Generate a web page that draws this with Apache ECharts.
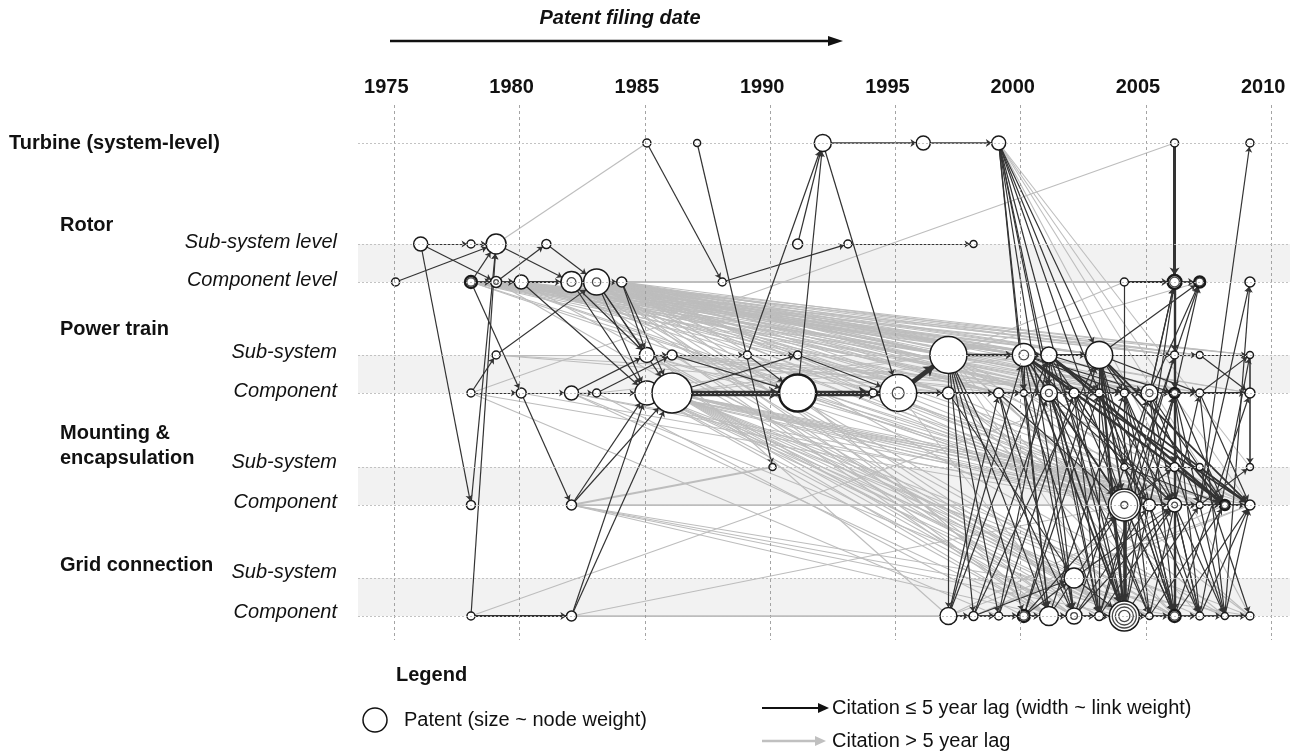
<!DOCTYPE html>
<html><head><meta charset="utf-8">
<script src="https://cdn.jsdelivr.net/npm/echarts@6/dist/echarts.min.js"></script>
<style>html,body{margin:0;padding:0;background:#fff}#c{width:1292px;height:755px}</style>
</head><body><div id="c"></div>
<script>
// ---------------- DATA ----------------
const rows = ['T','RS','RC','PS','PC','MS','MC','GS','GC'];
const tickYears = [1975,1980,1985,1990,1995,2000,2005,2010];
// [id, row, filing year, node weight, node style]
const nodes = [
['T85','T',1985,8,'plain'],['T87','T',1987,7,'plain'],['T92','T',1992,17,'plain'],['T96','T',1996,14,'plain'],['T99','T',1999,14,'plain'],['T06','T',2006,8,'plain'],['T09','T',2009,8,'plain'],
['RS76','RS',1976,14,'plain'],['RS78','RS',1978,8,'plain'],['RS79','RS',1979,20,'plain'],['RS81','RS',1981,9,'plain'],['RS91','RS',1991,10,'plain'],['RS93','RS',1993,8,'plain'],['RS98','RS',1998,7,'plain'],
['RC75','RC',1975,8,'plain'],['RC78','RC',1978,12,'bold'],['RC79','RC',1979,11,'ring'],['RC80','RC',1980,14,'plain'],['RC82','RC',1982,21,'ring'],['RC83','RC',1983,26,'ringS'],['RC84','RC',1984,10,'plain'],['RC88','RC',1988,8,'plain'],['RC04','RC',2004,8,'plain'],['RC06','RC',2006,14,'bold'],['RC07','RC',2007,11,'bold'],['RC09','RC',2009,10,'plain'],
['PS79','PS',1979,8,'plain'],['PS85','PS',1985,15,'plain'],['PS86','PS',1986,10,'plain'],['PS89','PS',1989,8,'plain'],['PS91','PS',1991,8,'plain'],['PS97','PS',1997,37,'plain'],['PS00','PS',2000,23,'ring'],['PS01','PS',2001,16,'plain'],['PS03','PS',2003,27,'plain'],['PS06','PS',2006,8,'plain'],['PS07','PS',2007,7,'plain'],['PS09','PS',2009,7,'plain'],
['PC78','PC',1978,8,'plain'],['PC80','PC',1980,10,'plain'],['PC82','PC',1982,14,'plain'],['PC83','PC',1983,8,'plain'],['PC85','PC',1985,24,'plain'],['PC86','PC',1986,40,'plain'],['PC91','PC',1991,37,'thick'],['PC94','PC',1994,8,'plain'],['PC95','PC',1995,37,'ringS'],['PC97','PC',1997,12,'plain'],['PC99','PC',1999,10,'plain'],['PC00','PC',2000,7,'plain'],['PC01','PC',2001,17,'ring'],['PC02','PC',2002,10,'plain'],['PC03','PC',2003,8,'plain'],['PC04','PC',2004,8,'plain'],['PC05','PC',2005,17,'ring'],['PC06','PC',2006,10,'bold'],['PC07','PC',2007,8,'plain'],['PC09','PC',2009,10,'plain'],
['MS90','MS',1990,7,'plain'],['MS04','MS',2004,7,'plain'],['MS06','MS',2006,9,'plain'],['MS07','MS',2007,7,'plain'],['MS09','MS',2009,7,'plain'],
['MC78','MC',1978,9,'plain'],['MC82','MC',1982,10,'plain'],['MC04','MC',2004,32,'triple'],['MC05','MC',2005,12,'plain'],['MC06','MC',2006,14,'ring'],['MC07','MC',2007,7,'plain'],['MC08','MC',2008,10,'bold'],['MC09','MC',2009,10,'plain'],
['GS02','GS',2002,20,'plain'],
['GC78','GC',1978,8,'plain'],['GC82','GC',1982,10,'plain'],['GC97','GC',1997,17,'plain'],['GC98','GC',1998,9,'plain'],['GC99','GC',1999,8,'plain'],['GC00','GC',2000,12,'bold'],['GC01','GC',2001,19,'plain'],['GC02','GC',2002,16,'ring'],['GC03','GC',2003,9,'plain'],['GC04','GC',2004,30,'quad'],['GC05','GC',2005,7,'plain'],['GC06','GC',2006,12,'bold'],['GC07','GC',2007,8,'plain'],['GC08','GC',2008,7,'plain'],['GC09','GC',2009,8,'plain']
];
// citations with <= 5 year lag: [cited, citing, link weight]
const shortLagLinks = [
['RS76','RS78',1],['RS78','RS79',1],['RS76','RC79',1],['RS76','MC78',1],['RC75','RS79',1],['RC78','RS79',1],['MC78','RS79',1],['GC78','RS79',1],
['RC78','RC79',1.5],['RC79','RC80',1.5],['RC80','RC82',1.5],['RC82','RC83',1.5],['RC83','RC84',1],
['RC78','PC80',1],['PC80','MC82',1],['RC79','RS81',1],['RS79','RC82',1],['RS81','RC83',1],
['PC78','PS79',1],['PS79','RC83',1],['PC78','PC80',1],['PC80','PC82',1],['PC82','PC83',1],['PC83','PC85',1],
['PC82','PS85',1],['PC83','PS86',1],['RC82','PS85',1],['RC82','PC85',1],['RC83','PS85',1],['RC83','PC86',1],['RC83','PC85',1],['RC84','PS85',1],['RC84','PC86',1],['RC80','PC85',1],
['PS85','PS86',1],['PS86','PS89',1],['PS89','PS91',1],['PS86','PC91',1],['PC86','PS91',1],['PC86','PC91',4.5],
['MC82','PC85',1],['MC82','PC86',1],['GC82','PC85',1],['GC82','PC86',1],['GC78','GC82',1.5],
['T85','RC88',1],['RC88','RS93',1],['T87','MS90',1],['RS91','T92',1],['PS89','T92',1],['PC91','T92',1],['T92','PC95',1],['T92','T96',1.3],['T96','T99',1.3],['RS93','RS98',1],
['PS89','PC91',1],['PS91','PC95',1],['PC91','PC94',4.5],['PC94','PC95',4.5],['PC95','PS97',4],['PS97','PS00',2],
['PC95','PC97',1.5],['PC97','PC99',1.5],['PC99','PC00',1.5],['PC00','PC01',1.5],['PC01','PC02',1.5],['PC02','PC03',1.5],['PC03','PC04',1.5],['PC04','PC05',1.5],['PC05','PC06',1.5],['PC06','PC07',1.5],['PC07','PC09',1.5],
['PS00','PS01',1.5],['PS01','PS03',1.5],['PS03','PS06',1],['PS06','PS07',1],['PS07','PS09',1],
['MS04','MS06',1],['MS06','MS07',1],
['MC04','MC05',1.5],['MC05','MC06',1.5],['MC06','MC07',1.5],['MC07','MC08',1.5],['MC08','MC09',1.5],
['GC97','GC98',1.5],['GC98','GC99',1.5],['GC99','GC00',1.5],['GC00','GC01',1.5],['GC01','GC02',1.5],['GC02','GC03',1.5],['GC03','GC04',1.5],['GC04','GC05',1.5],['GC05','GC06',1.5],['GC06','GC07',1.5],['GC07','GC08',1.5],['GC08','GC09',1.5],
['RC04','RC06',1.5],['RC06','RC07',1.5],
['T06','RC06',2.5],['RC06','PS06',2],['PS06','PC06',2],['PC06','MS06',2],['MS06','MC06',2],['MC06','GC06',2],
['MC04','GC04',3],['PS03','GC03',1],['PS01','PC01',1],['PS00','PC00',1],['PS09','MS09',1.3],
['PS07','PC09',1],['PC07','PS09',1],['MS07','MC09',1],['MC07','MS09',1],['MC07','T09',1],['PS03','RC07',1],['RC04','MS04',1],
['MC04','RC06',1],['PC05','RC07',1],['MC05','RC07',1],['GC04','RC06',1],['MC07','RC09',1],['GC08','RC09',1],
['T99','PC00',1],['T99','GC01',1],['T99','PC01',1],['T99','GC02',1],['T99','GC03',1],['T99','GC04',1],['T99','MC04',1],['T99','PS03',1],['T99','PC03',1],
['PS97','GC97',1],['PS97','GC98',1],['PS97','GC99',1],['PS97','GC00',1],['PS97','GC01',1],['PS97','GC02',1],
['PS00','PC02',1],['PS00','PC04',1],['PS00','MC04',1.5],['PS00','GC02',1],['PS00','GC04',1.5],['PS00','MC06',1],['PS00','MC08',2],['PS00','MC09',1.5],['PS00','PC05',1],
['PS01','PC03',1],['PS01','MC05',1],['PS01','GC03',1],['PS01','GC05',1],['PS01','MC08',2],['PS01','MC09',1.5],['PS01','PC06',1],
['PS03','PC04',1],['PS03','MC04',1.5],['PS03','GC04',2],['PS03','GC06',1],['PS03','MC08',1.5],['PS03','MC09',1.5],['PS03','PC07',1],['PS03','MS04',1],
['PC99','GC01',1],['PC99','GC02',1],['PC99','MC04',1],['PC00','GC01',1],['PC00','GC03',1],['PC01','GC02',1],['PC01','GC04',1.5],['PC01','MC04',1],['PC01','GC05',1],['PC01','MC06',1],
['PC02','GC03',1],['PC02','GC04',1],['PC02','MC05',1],['PC02','GC06',1],['PC03','GC04',1],['PC03','MC05',1],['PC03','GC06',1],['PC03','MC06',1],
['PC04','GC05',1],['PC04','GC06',1],['PC04','MC06',1],['PC04','GC07',1],['PC05','GC06',1],['PC05','GC07',1],['PC05','MC07',1],['PC05','MC08',1],['PC05','RC06',1],
['PC06','GC07',1],['PC06','GC08',1],['PC06','MC08',1],['PC07','GC08',1],['PC07','MC09',1],
['MS04','GC06',1],['MS04','MC08',1],['MS06','GC08',1],['MS07','GC09',1],['MC04','GC06',1],['MC04','GC05',1],['MC04','RC07',1],['MC04','MS06',1],
['MC05','GC06',1],['MC05','GC07',1],['MC06','GC07',1],['MC06','GC08',1],
['GC97','PC99',1],['GC97','PS00',1],['GC97','PS01',1],['GC98','PC01',1],['GC98','PS03',1],['GC99','PC02',1],['GC99','PS01',1],
['GC00','GS02',1],['GC00','PC03',1],['GC00','MC04',1],['GC00','PS03',1],['GC01','PC04',1],['GC01','MC04',1],
['GC02','PC05',1],['GC02','MC05',1],['GC02','MC06',1],['GC03','PC06',1],['GC03','MC06',1],['GC03','PS06',1],
['GC04','PC06',1],['GC04','MC07',1],['GC05','PC07',1],['GC05','MC08',1],['GC06','PC09',1],['GC06','MC09',1],
['GC07','MC09',1],['GC07','PS09',1],['GC08','MC09',1],['GS02','GC04',1],['GS02','MC06',1],['GC98','GS02',1],['PC97','GS02',1]
];
// citations with > 5 year lag: [cited, citing, link weight]
const longLagLinks = [
['RS79','T85',1],['PC78','T06',1],['RC79','RC04',1.8],
['RC78','PS97',1],['RC78','PS01',1],['RC78','PC97',1],['RC78','PC01',1],['RC78','PC05',1],['RC78','PS06',1],['RC78','MC04',1],
['RC78','PS00',1],['RC78','PC99',1],['RC78','PS03',1],['RC78','PC03',1],['RC78','MC06',1],
['RC79','PS97',1],['RC79','PS00',1],['RC79','PS03',1],['RC79','PC99',1],['RC79','PC02',1],['RC79','PC06',1],['RC79','PS09',1],['RC79','MC05',1],
['RC79','PS01',1],['RC79','PC97',1],['RC79','PC01',1],['RC79','PC04',1],['RC79','PS06',1],['RC79','MC04',1],['RC79','GC02',1],
['RC80','PS97',1],['RC80','PS00',1],['RC80','PC00',1],['RC80','PC04',1],['RC80','PS07',1],['RC80','MC06',1],
['RC80','PS01',1],['RC80','PC97',1],['RC80','PC02',1],['RC80','PS03',1],['RC80','GC04',1],['RC80','MC08',1],
['RC82','PS97',1],['RC82','PS01',1],['RC82','PS03',1],['RC82','PC97',1],['RC82','PC99',1],['RC82','PC03',1],['RC82','PC05',1],['RC82','PC07',1],['RC82','MC04',1],['RC82','GC97',1],['RC82','GC01',1],['RC82','GC04',1],
['RC82','PS00',1],['RC82','PS06',1],['RC82','PC01',1],['RC82','PC09',1],['RC82','MC06',1],['RC82','GC06',1],['RC82','PS09',1],
['RC83','PS97',1.6],['RC83','PS00',1],['RC83','PS01',1],['RC83','PS03',1],['RC83','PS06',1],['RC83','PS09',1],['RC83','PC97',1],['RC83','PC01',1],['RC83','PC04',1],['RC83','PC06',1],['RC83','PC09',1],['RC83','MC04',1],['RC83','MC08',1],['RC83','GC02',1],['RC83','GC06',1],
['RC83','PC99',1],['RC83','PC02',1],['RC83','PC05',1],['RC83','PS07',1],['RC83','MC06',1],['RC83','GC04',1],['RC83','GC01',1],['RC83','MC09',1],
['RC84','PS97',1],['RC84','PS00',1],['RC84','PC99',1],['RC84','PC02',1],['RC84','PC05',1],['RC84','PS07',1],['RC84','MC05',1],['RC84','GC04',1],
['RC84','PS01',1],['RC84','PC97',1],['RC84','PC01',1],['RC84','PS03',1],['RC84','PC07',1],['RC84','MC04',1],['RC84','GC02',1],['RC84','GC08',1],
['PS79','PS97',1],['PS79','PC97',1],['PS79','PC05',1],
['PC78','MC04',1],['PC78','GC99',1],['GC78','PC03',1],
['PS85','PS97',1],['PS85','PC00',1],['PS85','PC04',1],['PS85','MC04',1],['PS85','GC03',1],['PS85','PC97',1],['PS85','MC06',1],['PS85','GC05',1],
['PS86','PS97',1],['PS86','PC05',1],['PS86','MC06',1],['PS86','PC99',1],['PS86','GC04',1],
['PC85','PC97',1],['PC85','PC01',1],['PC85','PC06',1],['PC85','MC04',1],['PC85','MC07',1],['PC85','MC09',1],['PC85','GC01',1],['PC85','GC04',1],['PC85','GC06',1],
['PC85','PC99',1],['PC85','PC03',1],['PC85','MC05',1],['PC85','GC02',1],['PC85','GC08',1],['PC85','MC08',1],['PC85','GC05',1],
['PC86','PS97',1],['PC86','PS01',1],['PC86','PC99',1],['PC86','PC03',1],['PC86','PC07',1],['PC86','MC05',1],['PC86','MC06',1],['PC86','MC08',1],['PC86','GC02',1],['PC86','GC05',1],['PC86','GC08',1],['PC86','GC09',1],
['PC86','PC97',1],['PC86','PC01',1],['PC86','PC05',1],['PC86','MC04',1],['PC86','MC07',1],['PC86','MC09',1],['PC86','GC01',1],['PC86','GC03',1],['PC86','GC04',1],['PC86','GC06',1],['PC86','GC07',1],
['PC82','PC97',1],['PC82','PC04',1],['PC82','MC04',1],['PC82','GC01',1],['PC82','PC01',1],['PC82','GC04',1],['PC82','MC06',1],
['PC80','PC97',1],['PC80','MC05',1],['PC83','PS97',1],['PC83','GC00',1],
['MC82','MS90',1.8],['MC82','MC04',1.5],['MC82','GC01',1],['MC82','GC09',1],['MC82','MC09',1],['MC82','GC04',1],['MC82','MC06',1],['MC82','GC06',1],
['GC82','GC97',1.5],['GC82','GC04',1],['GC82','MC04',1],['GC82','GC08',1],['GC82','GC02',1],
['PS91','PS03',1],['PC91','PC01',1],['PC91','GC01',1],['PC91','MC04',1],
['PC95','GC02',1],['PC95','MC06',1],
['PS97','RC04',1],['PS97','RC07',1],['PS97','MC04',1],['PS97','GC04',1],['PS97','MC06',1],['PS97','GC06',1],['PS97','MC09',1],['PS97','PC05',1],['PS97','GC09',1],
['T99','MS09',1],['T99','MC09',1],['T99','MC08',1],['T99','GC09',1],
['PC97','MC04',1],['PC97','GC06',1],['PC97','MC07',1],['PC97','GC08',1],['PC97','GC09',1],
['GC97','MC06',1],['GC97','MC09',1],['GC98','MC08',1],['GC98','MC09',1],['PC99','MC09',1],['PC00','MC07',1],['PC99','GC07',1]
];

// ---------------- LAYOUT / STYLE ----------------
const FONT = '"Liberation Sans", Arial, Helvetica, sans-serif';
const rowPos = {T:38, RS:139, RC:177, PS:250, PC:288, MS:362, MC:400, GS:473, GC:511};
const bands = [['RS','RC'],['PS','PC'],['MS','MC'],['GS','GC']];
function xPos(year){ return year + 0.05 + 0.003 * (year - 1975); }
const idx = {}; nodes.forEach((n, i) => { idx[n[0]] = i; });
const ringRatios = {plain:[], thick:[], ring:[0.42], ringS:[0.32], bold:[0.7], triple:[0.83,0.22], quad:[0.8,0.6,0.37]};

const graphData = nodes.map(n => ({
  value: [xPos(n[2]), rowPos[n[1]]],
  symbolSize: n[3],
  itemStyle: {color:'#fff', borderColor:'#1a1a1a', borderWidth: (n[4] === 'bold' || n[4] === 'thick') ? 2.4 : 1.5}
}));
const ringData = [];
nodes.forEach(n => ringRatios[n[4]].forEach(r => ringData.push([xPos(n[2]), rowPos[n[1]], n[3] * r])));

const links = [];
longLagLinks.forEach(l => { if (idx[l[0]] !== undefined && idx[l[1]] !== undefined)
  links.push({source: idx[l[0]], target: idx[l[1]], lineStyle: {color:'#bdbdbd', width: 1.1 * l[2], opacity: 1}, symbol: ['none','none']}); });
shortLagLinks.forEach(l => { if (idx[l[0]] !== undefined && idx[l[1]] !== undefined)
  links.push({source: idx[l[0]], target: idx[l[1]], lineStyle: {color:'#333', width: 1.2 * l[2], opacity: 1}, symbol: ['none','arrow'], symbolSize: [0, 4 + 1.4 * l[2]]}); });

const chart = echarts.init(document.getElementById('c'), null, {renderer: 'canvas'});

function txt(text, x, y, font, align) {
  return {type:'text', x, y, silent:true, style:{text, font, fill:'#111', textAlign: align || 'left', textVerticalAlign:'middle'}};
}
const B = 'bold 20px ' + FONT, I = 'italic 20px ' + FONT, R = '20px ' + FONT;

chart.setOption({
  animation: false,
  backgroundColor: '#fff',
  grid: {left: 358, right: 2, top: 105, bottom: 115, containLabel: false},
  xAxis: {
    type: 'value', position: 'top', min: 1973.55, max: 2010.75,
    axisLine: {show:false}, axisTick: {show:false}, splitLine: {show:false},
    axisLabel: {customValues: tickYears, formatter: v => String(Math.round(v)), fontFamily: FONT, fontSize: 20, fontWeight: 'bold', color: '#111', margin: 8, padding: [0, 16, 0, 0]}
  },
  yAxis: {type: 'value', inverse: true, min: 0, max: 535, show: false},
  series: [
    {
      type: 'scatter', data: [], z: 0, silent: true,
      markArea: {silent: true, itemStyle: {color: '#f2f2f2'}, data: bands.map(b => [{yAxis: rowPos[b[0]]}, {yAxis: rowPos[b[1]]}])},
      markLine: {silent: true, symbol: ['none','none'], label: {show:false},
        data: tickYears.map(y => ({xAxis: y, lineStyle: {color:'#9a9a9a', type:[3,3], width: 0.9}}))
          .concat(rows.map(r => ({yAxis: rowPos[r], lineStyle: {color:'#bdbdbd', type:[2,2], width: 0.9}})))}
    },
    {
      type: 'graph', coordinateSystem: 'cartesian2d', silent: true, z: 2,
      symbol: 'circle', data: graphData, links: links,
      lineStyle: {opacity: 1, curveness: 0}, edgeSymbol: ['none','none'],
      label: {show: false}, emphasis: {disabled: true}
    },
    {
      type: 'scatter', z: 3, silent: true, data: ringData,
      symbolSize: v => v[2],
      itemStyle: {color: 'rgba(255,255,255,0)', borderColor: '#1a1a1a', borderWidth: 1.3}
    }
  ],
  graphic: [
    txt('Patent filing date', 620, 18, 'bold italic 20px ' + FONT, 'center'),
    {type:'line', silent:true, shape:{x1:390, y1:41, x2:832, y2:41}, style:{stroke:'#111', lineWidth:2.5}},
    {type:'polygon', silent:true, shape:{points:[[828,36],[843,41],[828,46]]}, style:{fill:'#111'}},
    txt('Turbine (system-level)', 9, 143, B),
    txt('Rotor', 60, 225, B),
    txt('Sub-system level', 337, 242, I, 'right'),
    txt('Component level', 337, 280, I, 'right'),
    txt('Power train', 60, 329, B),
    txt('Sub-system', 337, 352, I, 'right'),
    txt('Component', 337, 391, I, 'right'),
    txt('Mounting &', 60, 433, B),
    txt('encapsulation', 60, 458, B),
    txt('Sub-system', 337, 462, I, 'right'),
    txt('Component', 337, 502, I, 'right'),
    txt('Grid connection', 60, 565, B),
    txt('Sub-system', 337, 572, I, 'right'),
    txt('Component', 337, 612, I, 'right'),
    txt('Legend', 396, 675, B),
    {type:'circle', silent:true, shape:{cx:375, cy:720, r:12}, style:{fill:'#fff', stroke:'#111', lineWidth:1.5}},
    txt('Patent (size ~ node weight)', 404, 720, R),
    {type:'line', silent:true, shape:{x1:762, y1:708, x2:820, y2:708}, style:{stroke:'#111', lineWidth:2}},
    {type:'polygon', silent:true, shape:{points:[[818,703],[829,708],[818,713]]}, style:{fill:'#111'}},
    txt('Citation \u2264 5 year lag (width ~ link weight)', 832, 708, R),
    {type:'line', silent:true, shape:{x1:762, y1:741, x2:818, y2:741}, style:{stroke:'#c0c0c0', lineWidth:2.5}},
    {type:'polygon', silent:true, shape:{points:[[815,736],[826,741],[815,746]]}, style:{fill:'#c0c0c0'}},
    txt('Citation > 5 year lag', 832, 741, R)
  ]
});
</script></body></html>
